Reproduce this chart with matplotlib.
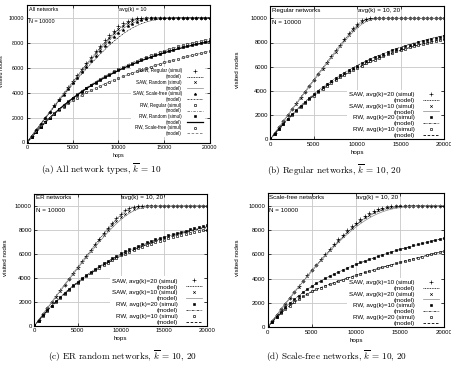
import matplotlib
matplotlib.use('Agg')
import matplotlib.pyplot as plt

plt.rcParams['font.family'] = ['Liberation Sans', 'DejaVu Sans']
plt.rcParams['mathtext.fontset'] = 'cm'

W, H = 452, 367

# ---------------- data ----------------
hops = [0, 500, 1000, 1500, 2000, 2500, 3000, 3500, 4000, 4500,
        5000, 5500, 6000, 6500, 7000, 7500, 8000, 8500, 9000, 9500,
        10000, 10500, 11000, 11500, 12000, 12500, 13000, 13500, 14000, 14500,
        15000, 15500, 16000, 16500, 17000, 17500, 18000, 18500, 19000, 19500, 20000]
x_ticks = [0, 5000, 10000, 15000, 20000]
y_ticks = [0, 2000, 4000, 6000, 8000, 10000]

# (a) all network types, k=10
a_saw_reg_sim = [0, 500, 995, 1490, 1985, 2480, 2975, 3465, 3955, 4445,
                 4930, 5415, 5895, 6370, 6840, 7300, 7750, 8180, 8590, 8970,
                 9300, 9570, 9770, 9890, 9955, 9985, 9995, 10000, 10000, 10000,
                 10000, 10000, 10000, 10000, 10000, 10000, 10000, 10000, 10000, 10000, 10000]
a_saw_reg_mod = [0, 500, 995, 1485, 1975, 2465, 2950, 3435, 3915, 4395,
                 4870, 5340, 5805, 6265, 6715, 7160, 7590, 8000, 8390, 8750,
                 9070, 9350, 9580, 9750, 9870, 9940, 9975, 9990, 9997, 10000,
                 10000, 10000, 10000, 10000, 10000, 10000, 10000, 10000, 10000, 10000, 10000]
a_saw_rnd_sim = [0, 500, 990, 1480, 1970, 2460, 2945, 3430, 3910, 4390,
                 4865, 5335, 5800, 6260, 6710, 7150, 7580, 7990, 8380, 8740,
                 9060, 9340, 9570, 9740, 9860, 9930, 9970, 9988, 9996, 10000,
                 10000, 10000, 10000, 10000, 10000, 10000, 10000, 10000, 10000, 10000, 10000]
a_saw_rnd_mod = [0, 500, 990, 1475, 1960, 2445, 2925, 3405, 3880, 4350,
                 4815, 5275, 5730, 6175, 6610, 7035, 7445, 7840, 8210, 8550,
                 8860, 9130, 9360, 9550, 9700, 9810, 9890, 9940, 9970, 9987,
                 9995, 10000, 10000, 10000, 10000, 10000, 10000, 10000, 10000, 10000, 10000]
a_saw_sf_sim = [0, 495, 985, 1470, 1950, 2430, 2905, 3375, 3840, 4300,
                4755, 5205, 5645, 6080, 6505, 6920, 7325, 7715, 8090, 8440,
                8760, 9050, 9300, 9510, 9680, 9800, 9885, 9940, 9970, 9987,
                9995, 10000, 10000, 10000, 10000, 10000, 10000, 10000, 10000, 10000, 10000]
a_saw_sf_mod = [0, 495, 980, 1460, 1935, 2405, 2870, 3330, 3780, 4225,
                4660, 5090, 5510, 5920, 6320, 6710, 7085, 7445, 7790, 8115,
                8420, 8700, 8950, 9170, 9360, 9520, 9650, 9750, 9830, 9890,
                9930, 9960, 9978, 9990, 9996, 10000, 10000, 10000, 10000, 10000, 10000]
a_rw_reg_sim = [0, 435, 852, 1250, 1631, 1995, 2343, 2677, 2995, 3300,
                3591, 3870, 4138, 4393, 4637, 4870, 5094, 5307, 5511, 5707,
                5893, 6072, 6243, 6407, 6563, 6713, 6856, 6993, 7124, 7249,
                7368, 7483, 7592, 7697, 7797, 7893, 7985, 8073, 8157, 8237, 8314]
a_rw_reg_mod = [0, 440, 858, 1257, 1638, 2002, 2350, 2683, 3002, 3306,
                3597, 3875, 4142, 4397, 4640, 4872, 5094, 5306, 5509, 5703,
                5888, 6065, 6234, 6396, 6550, 6698, 6839, 6974, 7103, 7226,
                7344, 7456, 7564, 7667, 7765, 7859, 7949, 8035, 8117, 8196, 8271]
a_rw_rnd_sim = [0, 433, 846, 1240, 1616, 1975, 2318, 2647, 2960, 3260,
                3546, 3820, 4083, 4333, 4571, 4799, 5017, 5225, 5424, 5615,
                5798, 5972, 6138, 6298, 6450, 6596, 6735, 6868, 6995, 7117,
                7233, 7344, 7450, 7551, 7648, 7741, 7830, 7915, 7996, 8074, 8149]
a_rw_rnd_mod = [0, 436, 850, 1245, 1621, 1980, 2322, 2649, 2961, 3259,
                3543, 3815, 4075, 4322, 4558, 4784, 4999, 5205, 5402, 5590,
                5770, 5942, 6106, 6263, 6413, 6557, 6694, 6825, 6951, 7071,
                7186, 7296, 7401, 7501, 7597, 7689, 7777, 7861, 7941, 8018, 8092]
a_rw_sf_sim = [0, 450, 870, 1265, 1635, 1980, 2300, 2600, 2880, 3140,
               3380, 3605, 3815, 4015, 4205, 4385, 4557, 4722, 4880, 5032,
               5178, 5319, 5456, 5589, 5718, 5843, 5965, 6084, 6200, 6313,
               6423, 6523, 6621, 6717, 6811, 6903, 6993, 7081, 7167, 7251, 7333]
a_rw_sf_mod = [0, 445, 862, 1255, 1622, 1966, 2285, 2583, 2862, 3121,
               3360, 3584, 3793, 3991, 4180, 4359, 4530, 4695, 4853, 5004,
               5150, 5290, 5427, 5560, 5689, 5814, 5936, 6055, 6171, 6284,
               6394, 6495, 6594, 6691, 6786, 6879, 6970, 7059, 7146, 7231, 7314]

# (b) regular networks, k=10,20
b_saw20_sim = [0, 500, 995, 1490, 1985, 2480, 2970, 3460, 3950, 4440,
               4930, 5415, 5900, 6385, 6865, 7345, 7820, 8290, 8755, 9190,
               9560, 9820, 9950, 9990, 10000, 10000, 10000, 10000, 10000, 10000,
               10000, 10000, 10000, 10000, 10000, 10000, 10000, 10000, 10000, 10000, 10000]
b_saw20_mod = [0, 500, 995, 1490, 1980, 2470, 2960, 3450, 3935, 4420,
               4905, 5385, 5865, 6340, 6815, 7285, 7750, 8210, 8660, 9080,
               9440, 9720, 9890, 9965, 9992, 10000, 10000, 10000, 10000, 10000,
               10000, 10000, 10000, 10000, 10000, 10000, 10000, 10000, 10000, 10000, 10000]
b_saw10_sim = [0, 500, 995, 1485, 1975, 2465, 2955, 3440, 3925, 4410,
               4890, 5370, 5845, 6320, 6790, 7255, 7715, 8170, 8610, 9020,
               9380, 9670, 9860, 9950, 9985, 9997, 10000, 10000, 10000, 10000,
               10000, 10000, 10000, 10000, 10000, 10000, 10000, 10000, 10000, 10000, 10000]
b_saw10_mod = [0, 500, 990, 1480, 1970, 2455, 2940, 3420, 3900, 4380,
               4855, 5325, 5795, 6260, 6720, 7175, 7620, 8055, 8475, 8865,
               9210, 9500, 9720, 9860, 9940, 9978, 9993, 10000, 10000, 10000,
               10000, 10000, 10000, 10000, 10000, 10000, 10000, 10000, 10000, 10000, 10000]
b_rw20_sim = [0, 455, 890, 1305, 1700, 2078, 2440, 2785, 3115, 3430,
              3731, 4018, 4293, 4555, 4806, 5045, 5274, 5493, 5702, 5901,
              6092, 6274, 6448, 6614, 6773, 6924, 7069, 7207, 7339, 7465,
              7585, 7700, 7810, 7915, 8015, 8111, 8202, 8290, 8373, 8453, 8529]
b_rw20_mod = [0, 450, 882, 1295, 1690, 2068, 2430, 2776, 3107, 3423,
              3725, 4014, 4290, 4554, 4806, 5047, 5277, 5497, 5707, 5908,
              6100, 6284, 6460, 6628, 6789, 6943, 7090, 7231, 7365, 7493,
              7616, 7733, 7845, 7952, 8054, 8152, 8245, 8334, 8419, 8500, 8578]
b_rw10_sim = [0, 440, 860, 1262, 1646, 2013, 2364, 2700, 3020, 3326,
              3618, 3898, 4165, 4420, 4664, 4898, 5121, 5334, 5538, 5733,
              5919, 6097, 6267, 6430, 6585, 6733, 6875, 7011, 7140, 7264,
              7382, 7495, 7603, 7706, 7805, 7899, 7989, 8075, 8157, 8236, 8311]
b_rw10_mod = [0, 438, 856, 1256, 1638, 2003, 2352, 2686, 3005, 3310,
              3601, 3880, 4146, 4401, 4644, 4877, 5099, 5312, 5515, 5709,
              5895, 6073, 6243, 6405, 6560, 6708, 6850, 6985, 7114, 7237,
              7355, 7468, 7576, 7679, 7777, 7871, 7961, 8047, 8129, 8207, 8282]

# (c) ER random networks, k=10,20
c_saw20_sim = [0, 500, 995, 1490, 1980, 2470, 2960, 3450, 3935, 4420,
               4900, 5380, 5855, 6330, 6800, 7265, 7725, 8175, 8610, 9010,
               9360, 9640, 9830, 9930, 9975, 9993, 10000, 10000, 10000, 10000,
               10000, 10000, 10000, 10000, 10000, 10000, 10000, 10000, 10000, 10000, 10000]
c_saw20_mod = [0, 500, 995, 1485, 1975, 2465, 2950, 3435, 3915, 4395,
               4875, 5350, 5820, 6290, 6750, 7205, 7655, 8095, 8520, 8915,
               9270, 9570, 9790, 9920, 9975, 9995, 10000, 10000, 10000, 10000,
               10000, 10000, 10000, 10000, 10000, 10000, 10000, 10000, 10000, 10000, 10000]
c_saw10_sim = [0, 500, 990, 1480, 1970, 2455, 2940, 3420, 3900, 4375,
               4845, 5315, 5780, 6240, 6690, 7135, 7570, 7990, 8390, 8760,
               9090, 9370, 9600, 9770, 9880, 9945, 9978, 9992, 10000, 10000,
               10000, 10000, 10000, 10000, 10000, 10000, 10000, 10000, 10000, 10000, 10000]
c_saw10_mod = [0, 495, 985, 1470, 1955, 2435, 2915, 3390, 3860, 4325,
               4785, 5240, 5690, 6130, 6565, 6990, 7400, 7800, 8180, 8540,
               8860, 9150, 9400, 9600, 9750, 9860, 9930, 9968, 9987, 9996,
               10000, 10000, 10000, 10000, 10000, 10000, 10000, 10000, 10000, 10000, 10000]
c_rw20_sim = [0, 455, 885, 1295, 1685, 2055, 2410, 2750, 3075, 3390,
              3700, 3980, 4248, 4504, 4749, 4984, 5210, 5428, 5639, 5845,
              6050, 6220, 6383, 6539, 6688, 6830, 6966, 7096, 7220, 7337,
              7450, 7558, 7662, 7762, 7859, 7953, 8045, 8135, 8224, 8312, 8400]
c_rw20_mod = [0, 450, 878, 1287, 1676, 2046, 2399, 2736, 3058, 3367,
              3662, 3943, 4211, 4467, 4712, 4946, 5170, 5385, 5591, 5788,
              5977, 6150, 6314, 6470, 6619, 6761, 6897, 7027, 7151, 7269,
              7382, 7490, 7594, 7693, 7788, 7880, 7968, 8052, 8133, 8211, 8286]
c_rw10_sim = [0, 450, 875, 1277, 1659, 2022, 2369, 2701, 3018, 3323,
              3620, 3890, 4148, 4394, 4630, 4856, 5073, 5282, 5484, 5682,
              5880, 6040, 6193, 6339, 6479, 6613, 6741, 6863, 6980, 7091,
              7200, 7298, 7391, 7480, 7565, 7647, 7727, 7806, 7884, 7962, 8040]
c_rw10_mod = [0, 446, 868, 1268, 1648, 2010, 2355, 2684, 2998, 3298,
              3585, 3859, 4121, 4371, 4610, 4839, 5058, 5267, 5467, 5658,
              5841, 6016, 6183, 6343, 6496, 6642, 6782, 6916, 7044, 7166,
              7283, 7395, 7502, 7605, 7703, 7797, 7887, 7973, 8056, 8135, 8211]

# (d) scale-free networks, k=10,20
d_saw10_sim = [0, 495, 985, 1470, 1950, 2425, 2895, 3360, 3820, 4275,
               4720, 5160, 5590, 6015, 6430, 6835, 7225, 7600, 7960, 8300,
               8615, 8900, 9155, 9375, 9560, 9710, 9825, 9905, 9955, 9982,
               9995, 10000, 10000, 10000, 10000, 10000, 10000, 10000, 10000, 10000, 10000]
d_saw10_mod = [0, 495, 980, 1460, 1935, 2405, 2870, 3330, 3780, 4225,
               4660, 5090, 5510, 5920, 6320, 6710, 7085, 7445, 7790, 8115,
               8420, 8700, 8950, 9170, 9360, 9520, 9650, 9750, 9830, 9890,
               9930, 9960, 9978, 9990, 9996, 10000, 10000, 10000, 10000, 10000, 10000]
d_saw20_sim = [0, 495, 982, 1465, 1942, 2413, 2878, 3337, 3790, 4236,
               4675, 5106, 5528, 5941, 6344, 6736, 7116, 7482, 7833, 8166,
               8479, 8768, 9030, 9262, 9461, 9627, 9758, 9857, 9927, 9970,
               9990, 9998, 10000, 10000, 10000, 10000, 10000, 10000, 10000, 10000, 10000]
d_saw20_mod = [0, 490, 975, 1455, 1928, 2395, 2855, 3308, 3753, 4190,
               4618, 5037, 5446, 5845, 6232, 6607, 6968, 7314, 7644, 7956,
               8248, 8518, 8765, 8987, 9183, 9353, 9497, 9616, 9711, 9785,
               9842, 9886, 9920, 9946, 9965, 9979, 9989, 9995, 9998, 10000, 10000]
d_rw10_sim = [0, 452, 872, 1268, 1638, 1984, 2305, 2606, 2887, 3148,
              3389, 3614, 3825, 4025, 4215, 4395, 4567, 4732, 4890, 5042,
              5188, 5329, 5466, 5599, 5728, 5853, 5975, 6094, 6210, 6323,
              6433, 6533, 6631, 6727, 6821, 6913, 7003, 7091, 7177, 7261, 7343]
d_rw10_mod = [0, 447, 863, 1257, 1625, 1970, 2290, 2590, 2870, 3130,
              3370, 3595, 3805, 4004, 4193, 4373, 4544, 4709, 4867, 5018,
              5164, 5305, 5442, 5575, 5704, 5829, 5951, 6070, 6186, 6299,
              6409, 6510, 6608, 6704, 6798, 6890, 6980, 7068, 7154, 7238, 7320]
d_rw20_sim = [0, 430, 815, 1165, 1485, 1780, 2052, 2305, 2540, 2750,
              2950, 3110, 3260, 3402, 3538, 3670, 3798, 3925, 4051, 4176,
              4300, 4412, 4522, 4630, 4736, 4841, 4945, 5048, 5150, 5251,
              5350, 5446, 5541, 5635, 5728, 5820, 5912, 6003, 6093, 6182, 6270]
d_rw20_mod = [0, 425, 808, 1157, 1476, 1770, 2040, 2290, 2522, 2737,
              2937, 3102, 3255, 3398, 3533, 3662, 3788, 3912, 4036, 4159,
              4281, 4394, 4505, 4614, 4721, 4826, 4930, 5033, 5135, 5236,
              5336, 5433, 5529, 5624, 5718, 5811, 5903, 5994, 6084, 6173, 6260]

a_labels = ['SAW, Regular (simul)', 'SAW, Random (simul)', 'SAW, Scale-free (simul)',
            'RW, Regular (simul)', 'RW, Random (simul)', 'RW, Scale-free (simul)']
b_labels = ['SAW, avg(k)=20 (simul)', 'SAW, avg(k)=10 (simul)',
            'RW, avg(k)=20 (simul)', 'RW, avg(k)=10 (simul)']
d_labels = ['SAW, avg(k)=10 (simul)', 'SAW, avg(k)=20 (simul)',
            'RW, avg(k)=10 (simul)', 'RW, avg(k)=20 (simul)']

# ---------------- styles ----------------
mk6 = [('+', 'k', 2.2), ('x', 'k', 1.8), ('*', 'k', 2.1), ('s', 'none', 1.6), ('s', 'k', 1.5), ('o', 'none', 1.7)]
ls6 = [((0, (1, 1)), 'k', 0.6), ('-', '#888888', 0.5), ((0, (2, 1, 0.6, 1)), 'k', 0.5),
       ((0, (3, 1.5, 1, 1.5)), '#777777', 0.6), ('-', 'k', 0.9), ((0, (3, 2)), '#777777', 0.6)]
mk4 = [('+', 'k', 2.2), ('x', 'k', 1.8), ('s', 'k', 1.5), ('s', 'none', 1.6)]
ls4 = [((0, (1, 1)), 'k', 0.6), ('-', '#888888', 0.5), ((0, (3, 1, 0.8, 1, 0.8, 1)), 'k', 0.5),
       ((0, (3, 2)), 'k', 0.6)]

fig = plt.figure(figsize=(W / 100, H / 100), dpi=100)


def panel(px, series, labels, mks, lss, title, avg, caption, cap_xy, ylab_x,
          fs_tick, fs_txt, fs_leg, leg_anchor, leg_kw, title_y, n_y):
    left, right, top, bottom = px
    ax = fig.add_axes([left / W, 1 - bottom / H, (right - left) / W, (bottom - top) / H])
    ax.set_xlim(0, 20000)
    ax.set_ylim(0, 11000)
    ax.set_xticks(x_ticks)
    ax.set_yticks(y_ticks)
    ax.set_axisbelow(True)
    ax.grid(True, color='#c8c8c8', lw=0.6)
    ax.tick_params(direction='in', length=2.5, width=0.5, top=True, right=True,
                   labelsize=fs_tick, pad=1.8)
    for s in ax.spines.values():
        s.set_linewidth(0.8)
    handles = []
    leg_labels = []
    for (sim, mod), lab, (m, fc, ms), (ls, lc, lw) in zip(series, labels, mks, lss):
        h1, = ax.plot(hops, sim, linestyle='none', marker=m, markersize=ms,
                      markerfacecolor=fc, markeredgecolor='k', markeredgewidth=0.45, color='k')
        h2, = ax.plot(hops, mod, linestyle=ls, color=lc, lw=lw)
        handles += [h1, h2]
        leg_labels += [lab, '(model)']
    leg = ax.legend(handles, leg_labels, loc='lower right', bbox_to_anchor=leg_anchor,
                    fontsize=fs_leg, markerfirst=False, alignment='right', numpoints=1,
                    frameon=True, fancybox=False, edgecolor='none', facecolor='white',
                    framealpha=1, borderaxespad=0, borderpad=0.3, **leg_kw)
    leg.set_zorder(1.5)
    ax.text(0.01, title_y, title, transform=ax.transAxes, fontsize=fs_txt, va='center', ha='left')
    ax.text(0.01, n_y, 'N = 10000', transform=ax.transAxes, fontsize=fs_txt, va='center', ha='left')
    ax.text(0.502, title_y, avg, transform=ax.transAxes, fontsize=fs_txt, va='center', ha='left')
    ax.set_xlabel('hops', fontsize=fs_txt, va='center')
    ax.xaxis.set_label_coords(0.5, -0.098)
    ax.set_ylabel('visited nodes', fontsize=fs_txt, va='center')
    ax.yaxis.set_label_coords(ylab_x, 0.52)
    fig.text(cap_xy[0] / W, 1 - cap_xy[1] / H, caption, fontsize=6.6, family='cmr10',
             ha='center', va='center')
    return ax


panel((27, 210, 5.2, 142.5),
      [(a_saw_reg_sim, a_saw_reg_mod), (a_saw_rnd_sim, a_saw_rnd_mod), (a_saw_sf_sim, a_saw_sf_mod),
       (a_rw_reg_sim, a_rw_reg_mod), (a_rw_rnd_sim, a_rw_rnd_mod), (a_rw_sf_sim, a_rw_sf_mod)],
      a_labels, mk6, ls6, 'All networks', 'avg(k) = 10',
      r'(a) All network types, $\overline{k}$ = 10', (101.7, 169.3), -0.14,
      3.9, 3.9, 3.3, (0.971, 0.037),
      dict(handlelength=3.5, handletextpad=1.2, labelspacing=0.15), 0.969, 0.878)

panel((270.3, 444.3, 6.2, 139.3),
      [(b_saw20_sim, b_saw20_mod), (b_saw10_sim, b_saw10_mod),
       (b_rw20_sim, b_rw20_mod), (b_rw10_sim, b_rw10_mod)],
      b_labels, mk4, ls4, 'Regular networks', 'avg(k) = 10, 20',
      r'(b) Regular networks, $\overline{k}$ = 10, 20', (334, 170), -0.187,
      4.3, 4.5, 4.5, (0.98, -0.005),
      dict(handlelength=2.6, handletextpad=1.3, labelspacing=0.08), 0.971, 0.876)

panel((34.3, 207.3, 194, 326),
      [(c_saw20_sim, c_saw20_mod), (c_saw10_sim, c_saw10_mod),
       (c_rw20_sim, c_rw20_mod), (c_rw10_sim, c_rw10_mod)],
      b_labels, mk4, ls4, 'ER networks', 'avg(k) = 10, 20',
      r'(c) ER random networks, $\overline{k}$ = 10, 20', (122, 356), -0.169,
      4.3, 4.5, 4.5, (0.98, -0.005),
      dict(handlelength=2.6, handletextpad=1.3, labelspacing=0.08), 0.971, 0.876)

panel((267.7, 444.3, 193.5, 327.3),
      [(d_saw10_sim, d_saw10_mod), (d_saw20_sim, d_saw20_mod),
       (d_rw10_sim, d_rw10_mod), (d_rw20_sim, d_rw20_mod)],
      d_labels, mk4, ls4, 'Scale-free networks', 'avg(k) = 10, 20',
      r'(d) Scale-free networks, $\overline{k}$ = 10, 20', (337, 356), -0.17,
      4.3, 4.5, 4.5, (0.98, -0.005),
      dict(handlelength=2.6, handletextpad=1.3, labelspacing=0.08), 0.971, 0.876)

fig.savefig('out.png', dpi=100)
